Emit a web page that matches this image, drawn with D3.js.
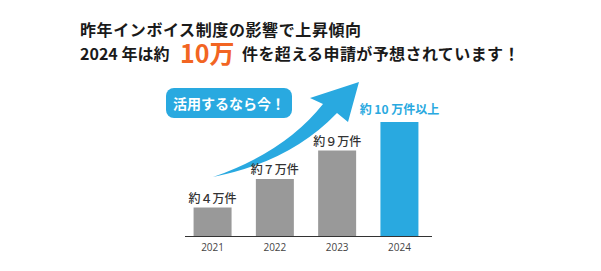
<!DOCTYPE html>
<html>
<head>
<meta charset="utf-8">
<script src="https://cdn.jsdelivr.net/npm/d3@7"></script>
<style>
  body { margin: 0; background: #fff; }
  svg text { font-family: "Noto Sans CJK JP", "Noto Sans", sans-serif; }
</style>
</head>
<body>
<div id="chart"></div>
<script>
// データ
const years = ["2021", "2022", "2023", "2024"];
const values = [4, 7, 9, 10];
const labels = ["約４万件", "約７万件", "約９万件", "約 10 万件以上"];
const highlight = ["2024"];

const width = 601;
const height = 271;

const svg = d3.select("#chart")
    .append("svg")
    .attr("width", width)
    .attr("height", height);

// タイトル
const title = svg.append("g").attr("font-weight", "bold").attr("fill", "#1a1a1a");
title.append("text")
    .attr("x", 80).attr("y", 36)
    .attr("font-size", 16)
    .attr("letter-spacing", 0.6)
    .text("昨年インボイス制度の影響で上昇傾向");
title.append("text")
    .attr("x", 80).attr("y", 60)
    .attr("font-size", 16)
    .text("2024 年は約");
title.append("text")
    .attr("x", 180).attr("y", 63)
    .attr("font-size", 25)
    .attr("fill", "#f26522")
    .text("10万");
title.append("text")
    .attr("x", 242).attr("y", 60)
    .attr("font-size", 16)
    .attr("letter-spacing", 0.4)
    .text("件を超える申請が予想されています！");

// スケール
const x = d3.scaleBand()
    .domain(years)
    .range([178, 434])
    .paddingInner(0.39)
    .paddingOuter(0.25);

// 棒の高さは順位に比例（イメージ図）
const y = d3.scaleLinear()
    .domain([0, years.length])
    .range([236, 122]);

const blue = "#29a9e0";

// 矢印
svg.append("path")
    .attr("fill", blue)
    .attr("d", "M213,177 Q285,152 323,104 L310,98 L359,82 L348,122 L337,113 Q290,162 213,177 Z");

// 吹き出し
svg.append("rect")
    .attr("x", 166).attr("y", 88)
    .attr("width", 126).attr("height", 30)
    .attr("rx", 8)
    .attr("fill", blue);
svg.append("text")
    .attr("x", 229).attr("y", 109)
    .attr("text-anchor", "middle")
    .attr("font-size", 14)
    .attr("font-weight", "bold")
    .attr("fill", "#fff")
    .text("活用するなら今！");

// 棒
svg.selectAll("rect.bar")
    .data(years)
    .enter().append("rect")
    .attr("class", "bar")
    .attr("x", d => x(d))
    .attr("width", x.bandwidth())
    .attr("y", (d, i) => y(i + 1))
    .attr("height", (d, i) => y(0) - y(i + 1))
    .attr("fill", d => highlight.includes(d) ? blue : "#999999");

// ラベル
svg.selectAll("text.val")
    .data(years)
    .enter().append("text")
    .attr("class", "val")
    .attr("x", d => x(d) + x.bandwidth() / 2)
    .attr("y", (d, i) => y(i + 1) - (highlight.includes(d) ? 8 : 5))
    .attr("text-anchor", "middle")
    .attr("font-size", 12)
    .attr("font-weight", d => highlight.includes(d) ? "bold" : 500)
    .attr("fill", d => highlight.includes(d) ? blue : "#333")
    .text((d, i) => labels[i]);

// X軸
const axis = svg.append("g")
    .attr("transform", `translate(0,${y(0)})`)
    .call(d3.axisBottom(x).tickSize(0).tickPadding(8));
axis.select(".domain")
    .attr("d", "M185,0.5H432")
    .attr("stroke", "#333")
    .attr("stroke-width", 1.2);
axis.selectAll("text")
    .attr("font-size", 10)
    .attr("fill", "#444")
    .style("font-family", "'Open Sans', 'Noto Sans', sans-serif");
</script>
</body>
</html>
